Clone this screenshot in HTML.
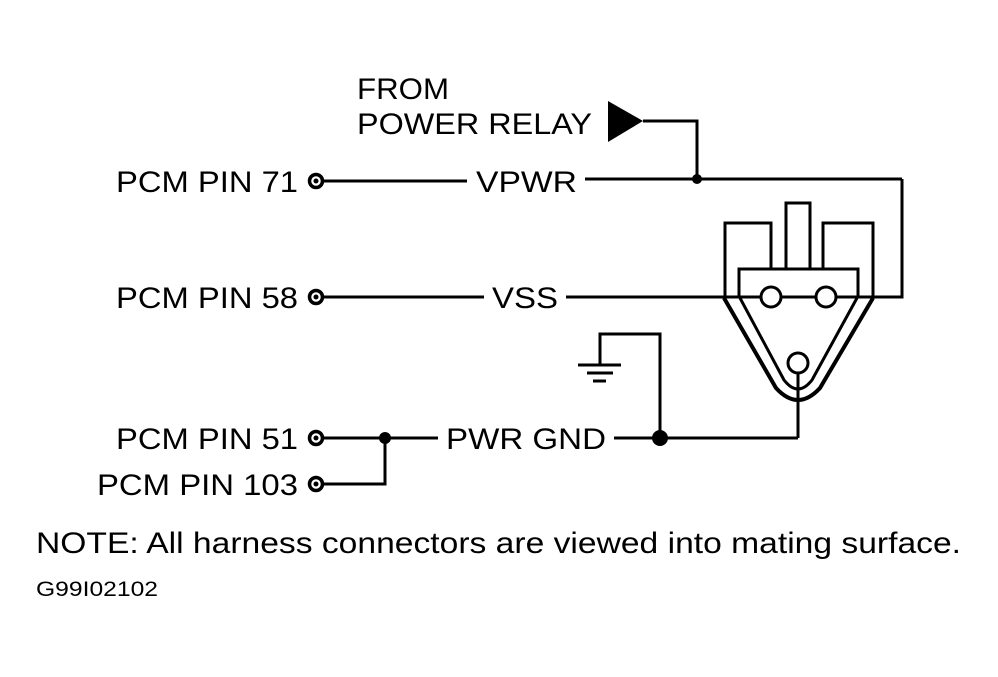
<!DOCTYPE html>
<html><head><style>html,body{margin:0;padding:0;background:#fff}</style></head><body>
<svg width="998" height="672" viewBox="0 0 998 672" xmlns="http://www.w3.org/2000/svg" font-family="Liberation Sans, sans-serif" font-size="30" fill="#000">
<g stroke="#000" stroke-width="3" fill="none">
<line x1="323" y1="181" x2="467" y2="181"/>
<line x1="585" y1="179" x2="902" y2="179"/>
<polyline points="643,121 697,121 697,179"/>
<polyline points="902,179 902,297 873,297"/>
<line x1="323" y1="297" x2="484" y2="297"/>
<line x1="566" y1="297" x2="761" y2="297"/>
<line x1="836" y1="297" x2="873" y2="297"/>
<line x1="323" y1="438" x2="438" y2="438"/>
<line x1="614" y1="438" x2="798" y2="438"/>
<polyline points="323,484 385,484 385,438"/>
<polyline points="660,438 660,334 600,334 600,365"/>
<line x1="798" y1="372" x2="798" y2="438"/>
<polyline points="725,297 725,223 771,223 771,268"/>
<polyline points="786,268 786,203 810,203 810,268"/>
<polyline points="823,268 823,223 873,223 873,297"/>
<rect x="739" y="269" width="119" height="28"/>
<path d="M724,298 L776,388 Q798,412 820,388 L873,298" stroke-width="4"/>
<path d="M740,298 L784,380 Q798,398 812,380 L857,298"/>
<circle cx="771" cy="297" r="10" fill="#fff"/>
<circle cx="826" cy="297" r="10" fill="#fff"/>
<circle cx="798" cy="363" r="10" fill="#fff"/>
<circle cx="316" cy="181" r="6.5" stroke-width="3.5"/>
<circle cx="316" cy="297" r="6.5" stroke-width="3.5"/>
<circle cx="316" cy="438" r="6.5" stroke-width="3.5"/>
<circle cx="316" cy="484" r="6.5" stroke-width="3.5"/>
</g>
<g stroke="#000" stroke-width="3">
<line x1="578" y1="365" x2="621" y2="365"/>
<line x1="587" y1="373" x2="613" y2="373"/>
<line x1="593" y1="381" x2="606" y2="381"/>
</g>
<circle cx="316" cy="181" r="2.5"/><circle cx="316" cy="297" r="2.5"/>
<circle cx="316" cy="438" r="2.5"/><circle cx="316" cy="484" r="2.5"/>
<circle cx="697" cy="179" r="5"/>
<circle cx="385" cy="438" r="6"/>
<circle cx="660" cy="438" r="8"/>
<polygon points="608,101 643,121 608,142"/>
<text x="357" y="99" textLength="92" lengthAdjust="spacingAndGlyphs">FROM</text>
<text x="357" y="134" textLength="235" lengthAdjust="spacingAndGlyphs">POWER RELAY</text>
<text x="116" y="192" textLength="182" lengthAdjust="spacingAndGlyphs">PCM PIN 71</text>
<text x="476" y="192" textLength="101" lengthAdjust="spacingAndGlyphs">VPWR</text>
<text x="116" y="308" textLength="182" lengthAdjust="spacingAndGlyphs">PCM PIN 58</text>
<text x="492" y="308" textLength="66" lengthAdjust="spacingAndGlyphs">VSS</text>
<text x="116" y="449" textLength="182" lengthAdjust="spacingAndGlyphs">PCM PIN 51</text>
<text x="446" y="449" textLength="160" lengthAdjust="spacingAndGlyphs">PWR GND</text>
<text x="97" y="495" textLength="201" lengthAdjust="spacingAndGlyphs">PCM PIN 103</text>
<text x="36" y="553" textLength="925" lengthAdjust="spacingAndGlyphs">NOTE:  All harness connectors are viewed into mating surface.</text>
<text x="36" y="596" font-size="21" textLength="122" lengthAdjust="spacingAndGlyphs">G99I02102</text>
</svg>
</body></html>
